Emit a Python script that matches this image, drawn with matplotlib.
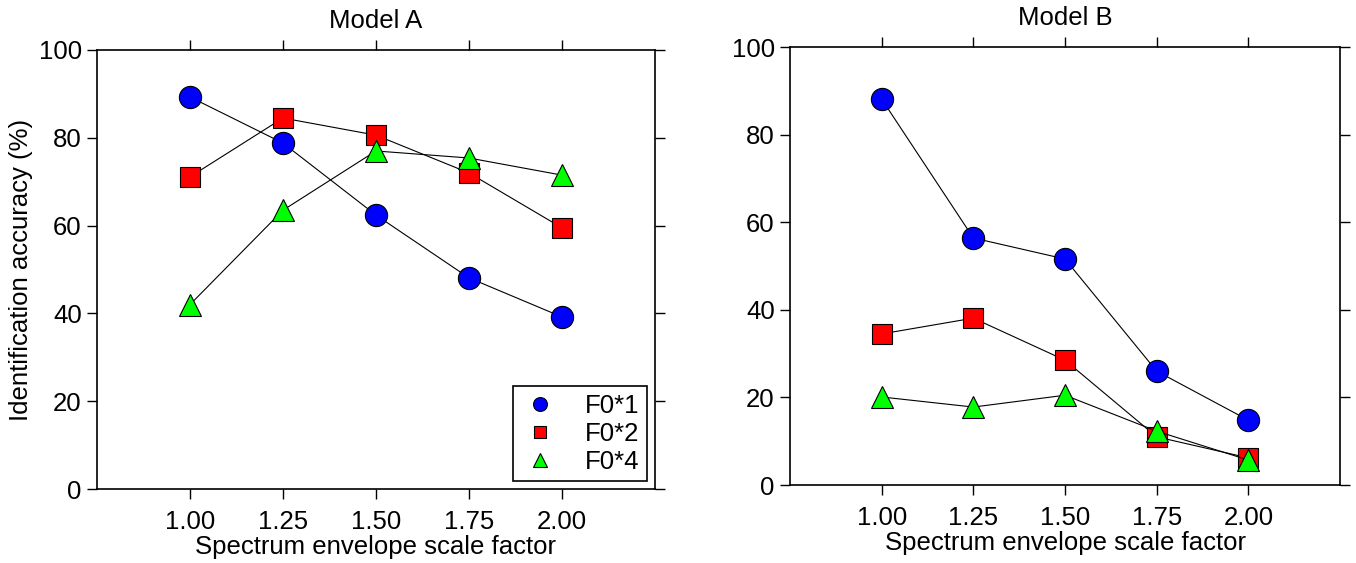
import numpy as np
import matplotlib
matplotlib.use("Agg")
import matplotlib.pyplot as plt

plt.rcParams['font.family'] = ['Liberation Sans', 'DejaVu Sans']

scale = [1.00, 1.25, 1.50, 1.75, 2.00]
tick_labels = ["1.00", "1.25", "1.50", "1.75", "2.00"]
series_names = ["F0*1", "F0*2", "F0*4"]

# Model A
a_f0x1 = [89.3, 78.8, 62.4, 48.1, 39.2]
a_f0x2 = [71.1, 84.5, 80.6, 72.0, 59.5]
a_f0x4 = [42.0, 63.5, 77.0, 75.4, 71.5]

# Model B
b_f0x1 = [88.1, 56.4, 51.6, 26.0, 14.8]
b_f0x2 = [34.5, 38.1, 28.5, 11.0, 6.2]
b_f0x4 = [20.1, 17.8, 20.5, 12.3, 5.7]

styles = [("o", "#0000ff", 16), ("s", "#ff0000", 14), ("^", "#00ff00", 16)]
legend_ms = [10, 8.5, 10]

fig = plt.figure(figsize=(13.56, 5.63), dpi=100)
axA = fig.add_axes([0.0715, 0.1314, 0.4115, 0.7798])
axB = fig.add_axes([0.5826, 0.1385, 0.4056, 0.7780])

FS = 18.5

for ax, data, title in [(axA, [a_f0x1, a_f0x2, a_f0x4], "Model A"),
                        (axB, [b_f0x1, b_f0x2, b_f0x4], "Model B")]:
    for (mk, col, ms), vals, name in zip(styles, data, series_names):
        ax.plot(scale, vals, color="black", lw=0.8, marker=mk, ms=ms,
                markerfacecolor=col, markeredgecolor="black", markeredgewidth=0.8,
                label=name)
    ax.set_xlim(0.75, 2.25)
    ax.set_ylim(0, 100)
    ax.set_xticks(scale)
    ax.set_xticklabels(tick_labels)
    ax.set_yticks([0, 20, 40, 60, 80, 100])
    ax.tick_params(direction="out", length=7, width=1, labelsize=FS,
                   top=True, right=True, pad=4)
    ax.tick_params(axis="x", pad=8)
    for sp in ax.spines.values():
        sp.set_linewidth(1.2)
    ax.set_xlabel("Spectrum envelope scale factor", fontsize=FS, labelpad=1)
    ax.set_title(title, fontsize=FS, pad=16)

axA.set_ylabel("Identification accuracy (%)", fontsize=FS, labelpad=4)

handles = []
for (mk, col, ms), lms, name in zip(styles, legend_ms, series_names):
    h, = axA.plot([], [], linestyle="none", marker=mk, ms=lms,
                  markerfacecolor=col, markeredgecolor="black",
                  markeredgewidth=0.8, label=name)
    handles.append(h)
leg = axA.legend(handles=handles, loc="lower right", fontsize=FS,
                 frameon=True, fancybox=False, framealpha=1,
                 edgecolor="black", handlelength=1.5, handletextpad=1.0,
                 borderaxespad=0.3, labelspacing=0.15, borderpad=0.3)
leg.get_frame().set_linewidth(1.2)

fig.savefig("out.png", dpi=100)
